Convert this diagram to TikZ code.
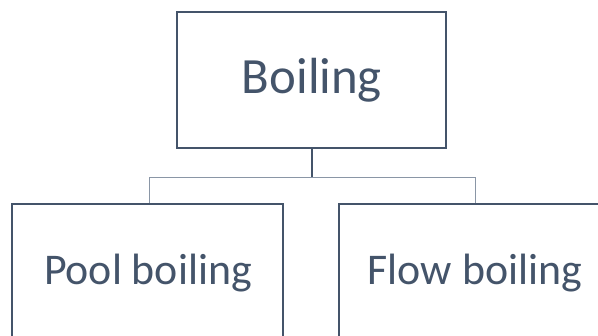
\documentclass[tikz,border=0pt]{standalone}
\usepackage{fontspec}
\setmainfont{Carlito}
\definecolor{slate}{HTML}{44546A}
\definecolor{conn}{HTML}{8A96A6}
\begin{document}
\begin{tikzpicture}[x=1bp,y=-1bp,
  box/.style={draw=slate,line width=2bp,inner sep=0pt,fill=white},
  lbl/.style={text=slate,inner sep=0pt,anchor=base}]
\useasboundingbox (0,0) rectangle (598,335);
\clip (0,0) rectangle (598,335);
% connectors
\coordinate (hl) at (149,177);
\coordinate (hr) at (475,177);
\coordinate (hm) at (312,177);
\draw[conn,line width=1bp] (hl) -- (hr);
\draw[slate,line width=2bp] (312,148) -- (hm);
\draw[conn,line width=1bp] (hl) -- (149,204);
\draw[conn,line width=1bp] (hr) -- (475,204);
% boxes
\draw[box] (177,12) rectangle (446,148);
\node[coordinate] (top) at (312,148) {};
\draw[box] (12,204) rectangle (283,360);
\draw[box] (339,204) rectangle (620,360);
% labels
\node[lbl,font=\fontsize{51}{55}\selectfont] (tb) at (312,93) {Boiling};
\node[lbl,font=\fontsize{44}{48}\selectfont] (pb) at (148,284) {Pool boiling};
\node[lbl,font=\fontsize{44}{48}\selectfont] (fb) at (475,284) {Flow boiling};
\end{tikzpicture}
\end{document}
